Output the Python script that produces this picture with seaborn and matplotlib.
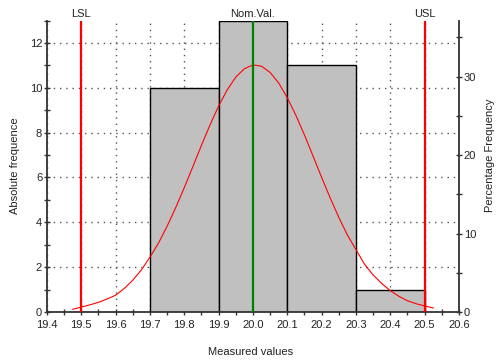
import matplotlib
matplotlib.use("Agg")
import matplotlib.pyplot as plt
from matplotlib.ticker import MultipleLocator, FormatStrFormatter
import seaborn as sns
import pandas as pd

# ---- data ----
bin_edges = [19.7, 19.9, 20.1, 20.3, 20.5]
bin_counts = [10, 13, 11, 1]
curve_x = [19.475, 19.500, 19.525, 19.550, 19.575, 19.600, 19.625, 19.650, 19.675,
           19.700, 19.725, 19.750, 19.775, 19.800, 19.825, 19.850, 19.875, 19.900,
           19.925, 19.950, 19.975, 20.000, 20.025, 20.050, 20.075, 20.100, 20.125,
           20.150, 20.175, 20.200, 20.225, 20.250, 20.275, 20.300, 20.325, 20.350,
           20.375, 20.400, 20.425, 20.450, 20.475, 20.500, 20.525]
curve_y = [0.12, 0.22, 0.32, 0.43, 0.58, 0.75, 1.05, 1.42, 1.88,
           2.45, 3.08, 3.83, 4.66, 5.55, 6.49, 7.44, 8.35, 9.19,
           9.91, 10.48, 10.85, 11.02, 10.96, 10.68, 10.21, 9.55, 8.77,
           7.89, 6.95, 6.00, 5.08, 4.22, 3.43, 2.78, 2.13, 1.65,
           1.27, 0.95, 0.70, 0.50, 0.37, 0.27, 0.18]
spec_lines = {"LSL": 19.5, "Nom.Val.": 20.0, "USL": 20.5}
spec_colors = {"LSL": "#ff0000", "Nom.Val.": "#008000", "USL": "#ff0000"}
x_label = "Measured values"
y_label = "Absolute frequence"
y2_label = "Percentage Frequency"

plt.rcParams["font.family"] = ["Liberation Sans", "DejaVu Sans"]
plt.rcParams["font.size"] = 8

W, H = 497, 363
fig = plt.figure(figsize=(W / 100, H / 100), dpi=100)
ax = fig.add_axes([47 / W, 1 - 312 / H, (459 - 47) / W, (312 - 20.5) / H])

centers = [(a + b) / 2 for a, b in zip(bin_edges[:-1], bin_edges[1:])]
df = pd.DataFrame({"x": centers, "w": bin_counts})
sns.histplot(data=df, x="x", weights="w", bins=bin_edges, ax=ax,
             color="#c0c0c0", edgecolor="black", linewidth=1.0, alpha=1.0, zorder=2)

curve = pd.DataFrame({"x": curve_x, "y": curve_y})
sns.lineplot(data=curve, x="x", y="y", ax=ax, color="#ff0000", linewidth=0.8, zorder=4)

ymax = max(bin_counts)
ax.set_xlim(19.4, 20.6)
ax.set_ylim(0, ymax)

for name, xv in spec_lines.items():
    ax.axvline(xv, color=spec_colors[name], linewidth=1.6, zorder=5)
    ax.text(xv, 1.004, name, transform=ax.get_xaxis_transform(), ha="center",
            va="bottom", fontsize=8, color="#222222")

spine_c = "#333333"
ax.xaxis.set_major_locator(MultipleLocator(0.1))
ax.xaxis.set_minor_locator(MultipleLocator(0.05))
ax.xaxis.set_major_formatter(FormatStrFormatter("%.1f"))
ax.yaxis.set_major_locator(MultipleLocator(2))
ax.yaxis.set_minor_locator(MultipleLocator(1))
ax.tick_params(which="both", direction="inout", length=5, width=1.0, color=spine_c,
               labelcolor="#222222", labelsize=8)
ax.tick_params(axis="x", which="both", pad=3)
ax.tick_params(axis="y", which="both", pad=1)

ax.set_axisbelow(True)
ax.grid(True, which="major", color="#555555", linestyle=(0, (1, 3.5)), linewidth=1.0)

for s in ["top", "right"]:
    ax.spines[s].set_visible(False)
for s in ["left", "bottom"]:
    ax.spines[s].set_color(spine_c)
    ax.spines[s].set_linewidth(1.3)

ax.set_xlabel("")
ax.set_ylabel("")
fig.text(251 / W, 1 - 352 / H, x_label, ha="center", va="center", fontsize=8, color="#222222")
fig.text(15 / W, 1 - 166 / H, y_label, ha="center", va="center", rotation=90,
         fontsize=8, color="#222222")

total = sum(bin_counts)
ax2 = ax.twinx()
ax2.set_ylim(0, ymax * 100 / total)
ax2.yaxis.set_major_locator(MultipleLocator(10))
ax2.yaxis.set_minor_locator(MultipleLocator(5))
ax2.tick_params(which="both", direction="inout", length=5, width=1.0, color=spine_c,
                labelcolor="#222222", labelsize=8, pad=1)
for s in ["top", "left", "bottom"]:
    ax2.spines[s].set_visible(False)
ax2.spines["right"].set_color(spine_c)
ax2.spines["right"].set_linewidth(1.3)
ax2.grid(False)
fig.text(490 / W, 1 - 155 / H, y2_label, ha="center", va="center", rotation=90,
         fontsize=8, color="#222222")

fig.savefig("out.png", dpi=100)
